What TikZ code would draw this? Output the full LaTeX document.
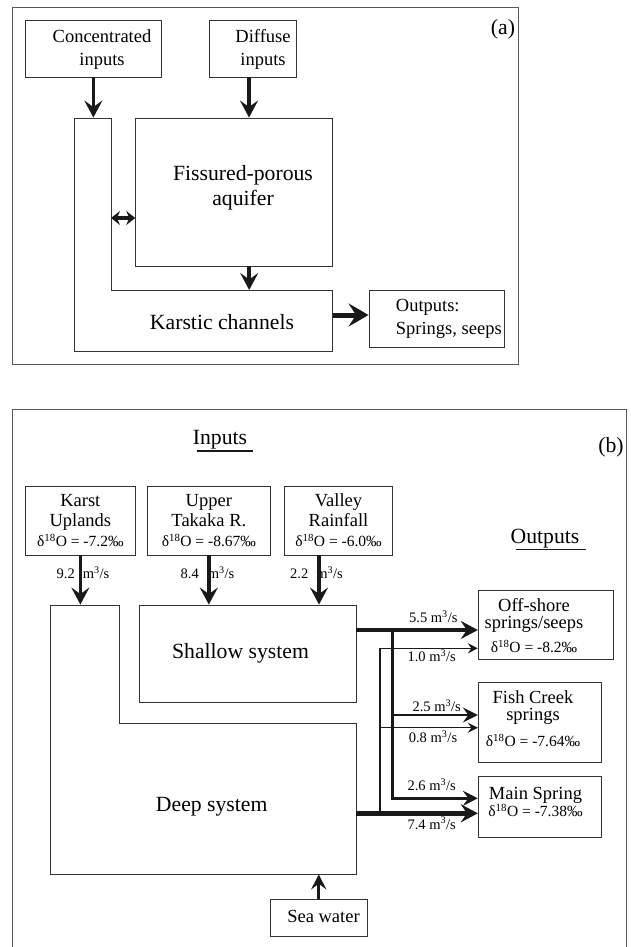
\documentclass[tikz,border=0pt]{standalone}
\usepackage{fontspec}
\setmainfont{Liberation Serif}
\usetikzlibrary{arrows.meta}
\newcommand{\isofont}{\fontsize{15.5}{17}\selectfont}
\newcommand{\flux}{m\textsuperscript{3}/s}
\begin{document}
\begin{tikzpicture}[x=1pt,y=-1pt,
    box/.style={draw=black!80,line width=0.9pt,inner sep=0pt},
    frm/.style={draw=black!65,line width=0.9pt},
    lbl/.style={align=center,inner sep=0pt,font=\fontsize{18.5}{22.5}\selectfont},
    src/.style={box,align=center,font=\fontsize{18.5}{20}\selectfont},
    sink/.style={align=center,inner sep=0pt,font=\fontsize{18.5}{17}\selectfont},
    big/.style={align=center,inner sep=0pt,font=\fontsize{21.7}{25}\selectfont},
    rate/.style={inner sep=0pt,font=\fontsize{14.5}{16}\selectfont},
    ul/.style={draw=black!90,line width=1.6pt},
    fat/.style={draw=black!90,line width=3.6pt,-{Stealth[length=17pt,width=18pt,inset=6.5pt]}},
    huge/.style={draw=black!90,line width=4.5pt,-{Stealth[length=17pt,width=18pt,inset=6pt]}},
    wide/.style={draw=black!90,line width=5pt,-{Stealth[length=20pt,width=23pt,inset=7.5pt]}},
    mid/.style={draw=black!90,line width=2.8pt,-{Stealth[length=15pt,width=15pt,inset=5.5pt]}},
    slim/.style={draw=black!90,line width=1.5pt,-{Stealth[length=10pt,width=10pt,inset=3.5pt]}},
    both/.style={draw=black!90,line width=3.5pt,{Stealth[length=9pt,width=14pt,inset=3pt]}-{Stealth[length=9pt,width=14pt,inset=3pt]}}]
    \useasboundingbox (0,0) rectangle (631,947);

    \draw[frm] (12.7,7.3) rectangle (518,364);
    \node[box,minimum width=135.3pt,minimum height=57pt] (ci) at (93.35,48.5) {};
    \node[lbl] (cit) at (102,49.5) {Concentrated\\inputs};
    \node[box,minimum width=87pt,minimum height=57pt] (di) at (252.5,48.5) {};
    \node[lbl] (dit) at (263,49.5) {Diffuse\\inputs};
    \node[box,minimum width=197pt,minimum height=148pt] (fa) at (234.2,192) {};
    \node[big] (fpt) at (243,187.5) {Fissured-porous\\aquifer};
    \coordinate (kc) at (111,290);
    \coordinate (kw) at (111,218);
    \coordinate (ke) at (332.7,315);
    \draw[box] (74.3,118) -- (111,118) -- (kc) -- (332.7,290) -- (332.7,351.7) -- (74.3,351.7) -- cycle;
    \node[big] (kt) at (222,322) {Karstic channels};
    \node[box,minimum width=135.3pt,minimum height=56.6pt] (out) at (436.65,319) {};
    \node[lbl,align=left,anchor=west] (outt) at (395.7,319) {Outputs:\\Springs, seeps};
    \node[big] (la) at (503,29) {(a)};
    \draw[fat] (ci.south) -- (ci.south |- fa.north);
    \draw[fat] ([xshift=-3.5pt]di.south) -- ([xshift=-3.5pt]di.south |- fa.north);
    \draw[fat] ([xshift=15pt]fa.south) -- ([xshift=15pt]fa.south |- kc);
    \draw[both] (kw) -- (fa.west |- kw);
    \draw[wide] (ke) -- (out.west |- ke);

    \draw[frm] (12.7,947) -- (12.7,409) -- (626,409) -- (626,947);
    \node[big] (inp) at (220,439.3) {Inputs};
    \draw[ul] ([xshift=4.5pt,yshift=-2pt]inp.south west) -- ([xshift=5.5pt,yshift=-2pt]inp.south east);
    \node[big] (outp) at (545,538.3) {Outputs};
    \draw[ul] ([xshift=5.5pt,yshift=-1.5pt]outp.south west) -- ([xshift=6pt,yshift=-1.5pt]outp.south east);
    \node[big] (lb) at (611,447) {(b)};
    \node[src,minimum width=110.7pt,minimum height=69pt] (ku) at (80.35,520.5) {Karst\\Uplands\\{\isofont δ\textsuperscript{18}O = -7.2‰}};
    \node[src,minimum width=122.3pt,minimum height=69pt] (ut) at (208.85,520.5) {Upper\\Takaka R.\\{\isofont δ\textsuperscript{18}O = -8.67‰}};
    \node[src,minimum width=108.4pt,minimum height=69pt] (vr) at (338.5,520.5) {Valley\\Rainfall\\{\isofont δ\textsuperscript{18}O = -6.0‰}};
    \node[box,minimum width=217pt,minimum height=97.7pt] (sh) at (247.5,653.85) {};
    \node[big] (sht) at (240.5,653) {Shallow system};
    \coordinate (db) at (50,874.3);
    \draw[box] (50,605) -- (119,605) -- (119,723.3) -- (356,723.3) -- (356,874.3) -- (db) -- cycle;
    \node[big] (dst) at (211.7,806.7) {Deep system};
    \node[box,minimum width=135pt,minimum height=69.3pt] (off) at (545.8,624.7) {};
    \node[sink] (offt) at (534,625.4) {Off-shore\\springs/seeps\\[7pt]{\isofont δ\textsuperscript{18}O = -8.2‰}};
    \node[box,minimum width=122.7pt,minimum height=80pt] (fc) at (539.65,722.7) {};
    \node[sink] (fct) at (533,718.7) {Fish Creek\\springs\\[8.5pt]{\isofont δ\textsuperscript{18}O = -7.64‰}};
    \node[box,minimum width=122.7pt,minimum height=60.6pt] (ms) at (539.65,807) {};
    \node[sink] (mst) at (535.5,802) {Main Spring\\{\isofont δ\textsuperscript{18}O = -7.38‰}};
    \node[box,minimum width=97.5pt,minimum height=37pt] (sw) at (318.75,917.5) {};
    \node[lbl] (swt) at (323.5,916.7) {Sea water};

    \node[rate] (q1) at (83,573) {9.2\hspace{8pt}\flux};
    \node[rate] (q2) at (207.5,573) {8.4\hspace{9pt}\flux};
    \node[rate] (q3) at (316.5,573) {2.2\hspace{8pt}\flux};
    \draw[fat] (ku.south) -- (ku.south |- sh.north);
    \draw[fat] (ut.south) -- (ut.south |- sh.north);
    \draw[fat] ([xshift=-19.5pt]vr.south) -- ([xshift=-19.5pt]vr.south |- sh.north);

    \coordinate (j1) at (392.3,630);
    \coordinate (j2) at (392.3,798.3);
    \coordinate (j3) at (392.3,715);
    \coordinate (t1) at (380,648.3);
    \coordinate (t2) at (380,813.3);
    \coordinate (t3) at (380,727.7);
    \draw[slim] (t2) -- (t1) -- (off.west |- t1);
    \draw[slim] (t3) -- (fc.west |- t3);
    \draw[huge] (sh.east |- j1) -- (off.west |- j1);
    \draw[mid] (j1) -- (j2) -- (ms.west |- j2);
    \draw[mid] (j3) -- (fc.west |- j3);
    \draw[huge] (t2 -| sh.east) -- (ms.west |- t2);
    \draw[mid] (sw.north) -- (sw.north |- db);
    \node[rate] (r1) at (433.3,616.7) {5.5 \flux};
    \node[rate] (r2) at (431.7,656) {1.0 \flux};
    \node[rate] (r3) at (436.7,706) {2.5 \flux};
    \node[rate] (r4) at (433,736.7) {0.8 \flux};
    \node[rate] (r5) at (431.7,785) {2.6 \flux};
    \node[rate] (r6) at (431.7,823.3) {7.4 \flux};
\end{tikzpicture}
\end{document}
